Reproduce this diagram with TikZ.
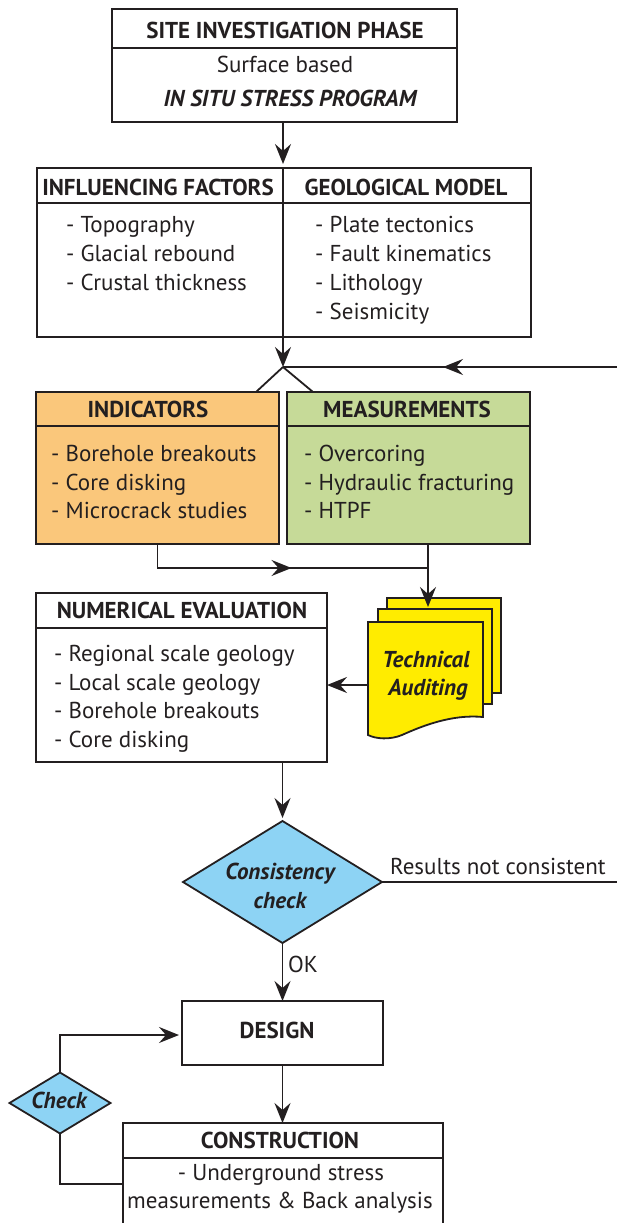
\documentclass[tikz,border=0pt]{standalone}
\usepackage{fontspec}
\setmainfont{PT Sans}
\usetikzlibrary{arrows.meta,shapes.geometric,fit,calc,decorations.markings}
\definecolor{ink}{HTML}{231F20}
\definecolor{indfill}{HTML}{FAC77B}
\definecolor{measfill}{HTML}{C6DA98}
\definecolor{chkfill}{HTML}{8DD3F4}
\definecolor{docfill}{HTML}{FFEC00}
\newcommand\basefont{\fontsize{23}{27}\selectfont}
\tikzset{
  frame/.style={draw=ink,line width=1.8pt,inner sep=0pt,outer sep=0pt},
  wire/.style={draw=ink,line width=1.8pt},
  txt/.style={text=ink,inner sep=0pt,anchor=base,font=\basefont},
  head/.style={txt,font=\basefont\bfseries},
  emph/.style={txt,font=\basefont\bfseries\itshape},
  item/.style={txt,anchor=base west},
  decision/.style={diamond,draw=ink,line width=1.8pt,fill=chkfill,inner sep=0pt,outer sep=0pt},
  midtip/.style={postaction={decorate},decoration={markings,mark=at position #1 with {\arrow{>}}}}
}
\begin{document}
\begin{tikzpicture}[x=1pt,y=-1pt,>={Stealth[length=20pt,width=16pt,inset=7pt]}]
\useasboundingbox (0,0) rectangle (617,1223);
\coordinate (spine) at (283,0);
\coordinate (junc) at (283,367);

% site investigation phase
\node[frame,fit={(112,9) (457,122)}] (site) {};
\draw[wire] ($(site.north west)+(0,39)$) -- ($(site.north east)+(0,39)$);
\node[head] (siteH) at (285,39) {SITE INVESTIGATION PHASE};
\node[txt] (siteA) at (285,73) {Surface based};
\node[emph] (siteB) at (290,106) {IN SITU STRESS PROGRAM};

% influencing factors / geological model
\node[frame,fit={(37,168) (531,337)}] (geo) {};
\draw[wire] ($(geo.north west)+(0,35)$) -- ($(geo.north east)+(0,35)$);
\node[head] (infH) at (158,195) {INFLUENCING FACTORS};
\node[head] (geoH) at (406,195) {GEOLOGICAL MODEL};
\node[item] (inf1) at (66,232) {- Topography};
\node[item] (inf2) at (66,261) {- Glacial rebound};
\node[item] (inf3) at (66,290) {- Crustal thickness};
\node[item] (geo1) at (315,232) {- Plate tectonics};
\node[item] (geo2) at (315,261) {- Fault kinematics};
\node[item] (geo3) at (315,290) {- Lithology};
\node[item] (geo4) at (315,319) {- Seismicity};
\draw[wire,->,shorten >=4pt] (site.south -| spine) -- (geo.north -| spine);
\draw[wire] (geo.north -| spine) -- (geo.south -| spine);
\draw[wire,->] (geo.south -| spine) -- (junc);

% indicators and measurements
\node[frame,fill=indfill,fit={(36,392) (279,544)}] (ind) {};
\draw[wire] ($(ind.north west)+(0,34)$) -- ($(ind.north east)+(0,34)$);
\node[head] (indH) at (148,417) {INDICATORS};
\node[item] (ind1) at (51,461) {- Borehole breakouts};
\node[item] (ind2) at (51,490) {- Core disking};
\node[item] (ind3) at (51,518) {- Microcrack studies};
\node[frame,fill=measfill,fit={(287,392) (530,544)}] (meas) {};
\draw[wire] ($(meas.north west)+(0,34)$) -- ($(meas.north east)+(0,34)$);
\node[head] (measH) at (407,417) {MEASUREMENTS};
\node[item] (meas1) at (304,461) {- Overcoring};
\node[item] (meas2) at (304,490) {- Hydraulic fracturing};
\node[item] (meas3) at (304,518) {- HTPF};
\draw[wire] (junc) -- ($(ind.north east)+(-23,0)$);
\draw[wire] (junc) -- ($(meas.north west)+(26,0)$);

% technical auditing document stack
\node[frame,fill=docfill,fit={(387,598) (501,693)}] (back) {};
\node[frame,fill=docfill,fit={(378,609) (492,704)}] (middle) {};
\draw[wire,fill=docfill] (368,622) -- (483,622) -- (483,717)
  .. controls (452,714) and (422,726) .. (402,735)
  .. controls (390,740) and (376,739) .. (368,735) -- cycle;
\coordinate (front) at (368,685);
\node[emph] (ta1) at (426,667) {Technical};
\node[emph] (ta2) at (428,695) {Auditing};

\coordinate (mrg) at (428,568);
\draw[wire,midtip=158pt] (ind.south) -- (ind.south |- mrg) -- (mrg);
\draw[wire,->,shorten >=-9pt] (meas.south -| mrg) -- (back.north -| mrg);

% numerical evaluation
\node[frame,fit={(36,593) (327,762)}] (num) {};
\draw[wire] ($(num.north west)+(0,35)$) -- ($(num.north east)+(0,35)$);
\node[head] (numH) at (182,618) {NUMERICAL EVALUATION};
\node[item] (num1) at (54,661) {- Regional scale geology};
\node[item] (num2) at (54,690) {- Local scale geology};
\node[item] (num3) at (54,718) {- Borehole breakouts};
\node[item] (num4) at (54,747) {- Core disking};
\draw[wire,->] (front) -- (front -| num.east);

% consistency check
\node[decision,minimum width=199pt,minimum height=122pt] (cons) at (282.5,882) {};
\node[emph] (consA) at (280,879) {Consistency};
\node[emph] (consB) at (280,908) {check};
\draw[wire,->,shorten >=3pt] (num.south -| cons.north) -- (cons.north);
\coordinate (fbB) at (645,882);
\coordinate (fbT) at (645,367);
\draw[wire,midtip=980pt] (cons.east) -- (fbB) -- (fbT) -- (junc);
\node[item] (nc) at (390,874) {Results not consistent};

% design
\node[frame,fit={(182,1001) (383,1065)}] (design) {};
\node[head] (designH) at (277,1038) {DESIGN};
\draw[wire,->] (cons.south) -- (cons.south |- design.north);
\node[item] (ok) at (288,972) {OK};

% construction
\node[frame,fit={(123,1123) (443,1235)}] (constr) {};
\draw[wire] ($(constr.north west)+(0,35)$) -- ($(constr.north east)+(0,35)$);
\node[head] (constrH) at (280,1148) {CONSTRUCTION};
\node[txt] (constr1) at (281,1180) {- Underground stress};
\node[txt] (constr2) at (280,1208) {measurements \& Back analysis};
\draw[wire,->] (design.south -| cons.south) -- (constr.north -| cons.south);

% check loop
\node[decision,minimum width=101pt,minimum height=61pt] (chk) at (60,1103) {};
\node[emph] (chkT) at (59,1108) {Check};
\coordinate (loopB) at (60,1184);
\coordinate (loopT) at (60,1035);
\draw[wire] (loopB -| constr.west) -- (loopB) -- (chk.south);
\draw[wire,->,shorten >=3pt] (chk.north) -- (loopT) -- (loopT -| design.west);
\end{tikzpicture}
\end{document}
